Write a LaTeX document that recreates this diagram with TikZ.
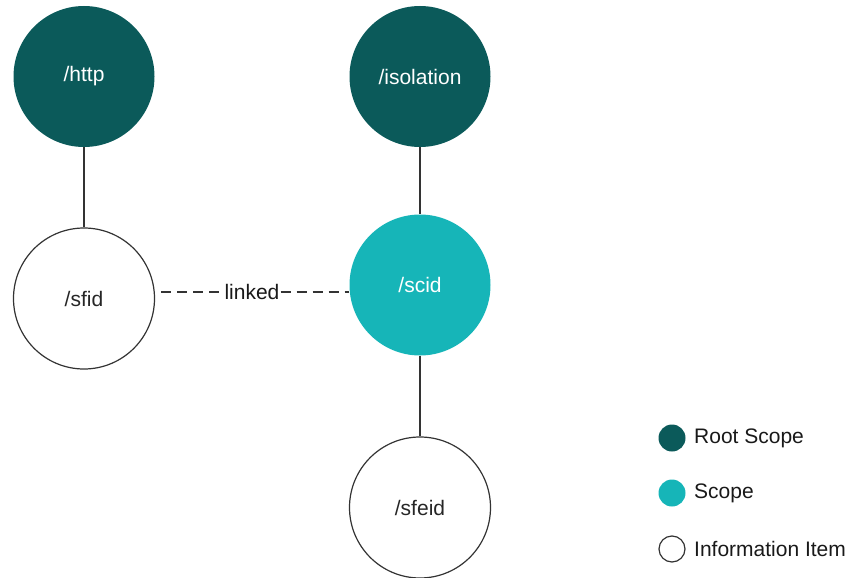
\documentclass[tikz,border=0pt]{standalone}
\usepackage{fontspec}
\setmainfont{Liberation Sans}
\definecolor{rootc}{HTML}{0B5A5A}
\definecolor{scopec}{HTML}{16B5B8}
\definecolor{linec}{HTML}{333333}
\begin{document}
\begin{tikzpicture}[x=1pt,y=-1pt,
  nd/.style={circle,minimum size=141pt,inner sep=0pt,font=\fontsize{21}{25}\selectfont},
  rootnode/.style={nd,fill=rootc,text=white},
  scopenode/.style={nd,fill=scopec,text=white},
  infonode/.style={nd,draw=linec,line width=1.2pt,fill=white,text=black!85},
  conn/.style={draw=linec,line width=1.3pt},
  dashconn/.style={draw=linec,line width=1.3pt,dash pattern=on 10pt off 6pt},
  legdot/.style={circle,minimum size=27pt,inner sep=0pt},
  legtext/.style={anchor=west,inner sep=0pt,font=\fontsize{21}{25}\selectfont,text=black!90}]
\useasboundingbox (0,0) rectangle (852,578);
\node[rootnode] (http) at (84,76.5) {/http};
\node[rootnode] (iso) at (420,76.5) {/isolation};
\node[infonode] (sfid) at (84,298.5) {/sfid};
\node[scopenode] (scid) at (420,285) {/scid};
\node[infonode] (sfeid) at (420,507.5) {/sfeid};
\draw[conn] (http) -- (sfid);
\draw[conn] (iso) -- (scid);
\draw[conn] (scid) -- (sfeid);
\coordinate (la) at (161,292);
\coordinate (lb) at (349,292);
\node[fill=white,inner sep=1pt,font=\fontsize{21}{25}\selectfont,text=black!90] (lk) at (252,292) {linked};
\draw[dashconn] (la) -- (lk.west);
\draw[dashconn] (lk.east) -- (lb);
\node[legdot,fill=rootc] (l1) at (672,438) {};
\node[legdot,fill=scopec] (l2) at (672,493) {};
\node[legdot,draw=linec,line width=1.2pt,fill=white,minimum size=26pt] (l3) at (672,549) {};
\node[legtext] (t1) at (694,438) {Root Scope};
\node[legtext] (t2) at (694,493) {Scope};
\node[legtext] (t3) at (694,549) {Information Item};
\end{tikzpicture}
\end{document}
